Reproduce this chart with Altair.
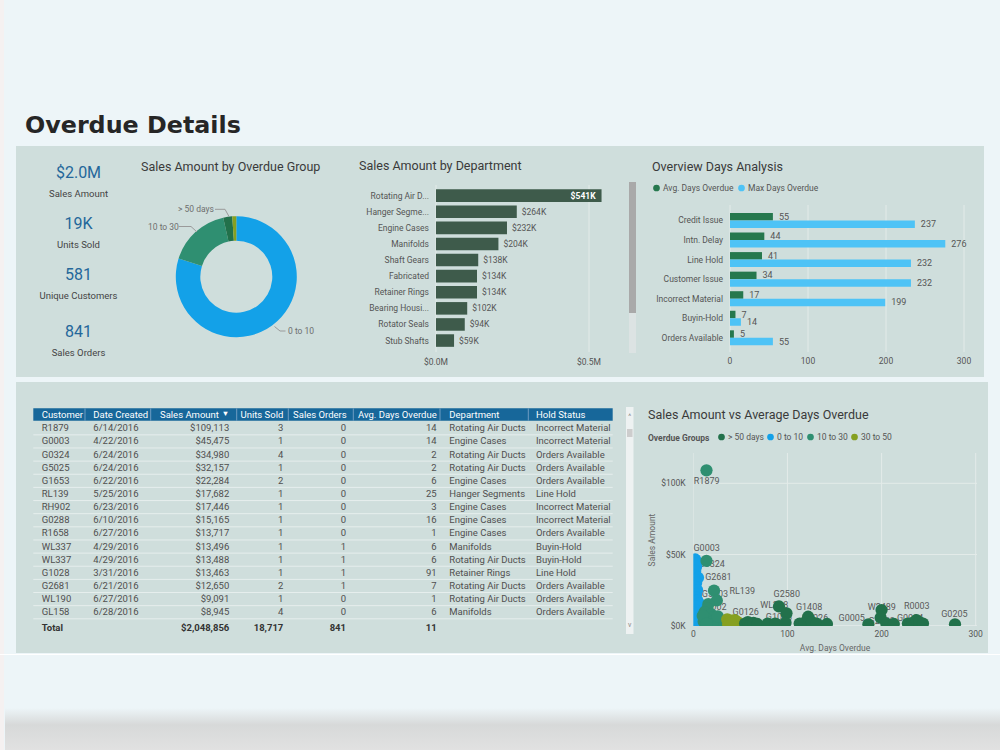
import altair as alt
import pandas as pd

# ---------------- values ----------------
kpi_values = ["$2.0M", "19K", "581", "841"]
kpi_names = ["Sales Amount", "Units Sold", "Unique Customers", "Sales Orders"]

overdue_groups = ["> 50 days", "0 to 10", "10 to 30", "30 to 50"]
overdue_colors = ["#22714b", "#13a1e8", "#2f8f71", "#86a021"]

# donut slices, clockwise from 12 o'clock
donut_groups = ["0 to 10", "10 to 30", "> 50 days", "30 to 50"]
donut_sales = [1636000, 342000, 49000, 22000]

dept_names = ["Rotating Air D...", "Hanger Segme...", "Engine Cases", "Manifolds",
              "Shaft Gears", "Fabricated", "Retainer Rings", "Bearing Housi...",
              "Rotator Seals", "Stub Shafts"]
dept_sales = [541000, 264000, 232000, 204000, 138000, 134000, 134000, 102000, 94000, 59000]
dept_ticks = [0, 500000]

hold_names = ["Credit Issue", "Intn. Delay", "Line Hold", "Customer Issue",
              "Incorrect Material", "Buyin-Hold", "Orders Available"]
hold_avg_days = [55, 44, 41, 34, 17, 7, 5]
hold_max_days = [237, 276, 232, 232, 199, 14, 55]
series_names = ["Avg. Days Overdue", "Max Days Overdue"]
days_ticks = [0, 100, 200, 300]

tbl_customer = ["R1879", "G0003", "G0324", "G5025", "G1653", "RL139", "RH902", "G0288",
                "R1658", "WL337", "WL337", "G1028", "G2681", "WL190", "GL158"]
tbl_date = ["6/14/2016", "4/22/2016", "6/24/2016", "6/24/2016", "6/22/2016", "5/25/2016",
            "6/23/2016", "6/10/2016", "6/27/2016", "4/29/2016", "4/29/2016", "3/31/2016",
            "6/21/2016", "6/27/2016", "6/28/2016"]
tbl_sales = [109113, 45475, 34980, 32157, 22284, 17682, 17446, 15165, 13717, 13496,
             13488, 13463, 12650, 9091, 8945]
tbl_units = [3, 1, 4, 1, 2, 1, 1, 1, 1, 1, 1, 1, 2, 1, 4]
tbl_orders = [0, 0, 0, 0, 0, 0, 0, 0, 0, 1, 1, 1, 1, 0, 0]
tbl_days = [14, 14, 2, 2, 6, 25, 3, 16, 1, 6, 6, 91, 7, 1, 6]
tbl_dept = ["Rotating Air Ducts", "Engine Cases", "Rotating Air Ducts", "Rotating Air Ducts",
            "Engine Cases", "Hanger Segments", "Engine Cases", "Engine Cases", "Engine Cases",
            "Manifolds", "Rotating Air Ducts", "Retainer Rings", "Rotating Air Ducts",
            "Rotating Air Ducts", "Manifolds"]
tbl_hold = ["Incorrect Material", "Incorrect Material", "Orders Available", "Orders Available",
            "Orders Available", "Line Hold", "Incorrect Material", "Incorrect Material",
            "Orders Available", "Buyin-Hold", "Buyin-Hold", "Line Hold", "Orders Available",
            "Orders Available", "Orders Available"]
tbl_total_sales = "$2,048,856"
tbl_total_units = "18,717"
tbl_total_orders = "841"
tbl_total_days = "11"

# scatter points per overdue group (days, sales in $K)
blue_days = [2, 3, 3, 2, 2, 5, 2, 3, 1, 4, 3, 2, 4, 3, 6, 1, 3, 2, 1, 4, 2, 5, 3, 2, 1, 4, 2]
blue_sales = [46.5, 44, 41.5, 38.5, 35.0, 33.7, 32.2, 30, 27.5, 25, 22.3, 20, 18, 17.4, 15.5,
              13.7, 13.5, 11, 9.1, 8.9, 6.5, 5, 3.5, 2.5, 1.5, 0.8, 0.5]
teal_days = [14, 14, 22, 25, 16, 15, 12, 19, 21, 13, 24, 11, 17, 28, 20, 26, 10, 14]
teal_sales = [109.1, 45.5, 24.6, 17.7, 15.2, 12, 9.5, 8, 6, 5, 4, 3, 2.5, 1.5, 1, 6.5, 7, 1.5]
olive_days = [36, 44, 38, 40, 42, 47, 37, 49, 39, 45, 41]
olive_sales = [4.5, 4, 2.5, 3.5, 2, 2.5, 1, 1, 1.5, 3, 1]
green_days = [55, 58, 61, 64, 68, 79, 87, 91, 99, 98, 113, 118, 122, 126, 131, 142, 186,
              200, 199, 205, 213, 228, 233, 237, 240, 244, 278]
green_sales = [1.5, 2.5, 1, 2, 1.2, 1.5, 1.5, 13.5, 8.7, 2, 1.5, 2, 6.3, 2.5, 1.5, 1.2, 1,
               11, 5.6, 1.5, 1.2, 1.5, 2, 4, 2.5, 1.5, 1]
sc_y_ticks = [0, 50, 100]

# customer labels, anchored in (days, $K)
sc_label_names = ["R1879", "G0003", "G0324", "G2681", "G5003", "RL139", "G0002", "G0126",
                  "G2580", "WL268", "G1408", "G1028", "G0026", "G0005", "W2489", "G2539",
                  "R0003", "G0084", "G0205"]
sc_label_days = [14.2, 14.2, 19.6, 26.6, 23, 52, 21.3, 55.7, 99.3, 86, 123, 91, 129.3,
                 168.3, 200.2, 200.2, 237.4, 230.3, 277.4]
sc_label_sales = [101.6, 54.8, 43.3, 34, 22, 24.4, 13.1, 9.6, 22.3, 14.5, 13.3, 5.9, 5.6,
                  5.6, 13.3, 3.3, 14, 5.6, 8]

# ---------------- styling helpers ----------------
FONT = "Roboto"
GRAY = "#555555"
PANEL = "#cfdedc"
GRID = "#e3ebe9"


def one_row():
    return pd.DataFrame({"k": [0]})


def box(x, y, x2, y2, fill, **kw):
    return alt.Chart(one_row()).mark_rect(fill=fill, **kw).encode(
        x=alt.value(x), x2=alt.value(x2), y=alt.value(y), y2=alt.value(y2))


def seg(x, y, x2, y2, color, width=1.0):
    return alt.Chart(one_row()).mark_rule(color=color, strokeWidth=width).encode(
        x=alt.value(x), x2=alt.value(x2), y=alt.value(y), y2=alt.value(y2))


def text(s, x, y, size=9.0, color=GRAY, align="left", weight="normal", font=FONT,
         baseline="middle", angle=0):
    return alt.Chart(pd.DataFrame({"t": [s]})).mark_text(
        align=align, baseline=baseline, fontSize=size, color=color,
        fontWeight=weight, font=font, angle=angle
    ).encode(x=alt.value(x), y=alt.value(y), text="t:N")


layers = []

# ---------------- page and panels ----------------
shadow = alt.Chart(one_row()).mark_rect(
    fill=alt.Gradient(gradient="linear", x1=0, x2=0, y1=0, y2=1,
                      stops=[alt.GradientStop(color="#edf5f8", offset=0),
                             alt.GradientStop(color="#d7d9d9", offset=0.4),
                             alt.GradientStop(color="#e1e1e1", offset=1)])
).encode(x=alt.value(5), x2=alt.value(1000), y=alt.value(708), y2=alt.value(750))

layers += [
    box(0, 0, 4, 750, "#f5f1f1"),
    box(16, 146, 984, 377, PANEL),
    box(16, 382, 988, 653, PANEL),
    seg(0, 654.5, 1000, 654.5, "#ffffff"),
    shadow,
    text("Overdue Details", 25, 133, size=23.8, color="#262626", weight="bold",
         font="DejaVu Sans", baseline="alphabetic"),
]

# ---------------- KPI cards ----------------
for v, n, y in zip(kpi_values, kpi_names, [173.3, 224.3, 275, 332.3]):
    layers.append(text(v, 78.5, y, size=16, color="#24679a", align="center"))
    layers.append(text(n, 78.5, y + 21, size=9.5, color="#444444", align="center"))

# ---------------- panel titles ----------------
TITLE = dict(size=12.5, color="#3a3a3a")
layers += [
    text("Sales Amount by Overdue Group", 141, 166.5, **TITLE),
    text("Sales Amount by Department", 359, 165.5, **TITLE),
    text("Overview Days Analysis", 652, 166.7, **TITLE),
    text("Sales Amount vs Average Days Overdue", 648, 415, **TITLE),
]

# ---------------- donut ----------------
group_scale = alt.Scale(domain=overdue_groups, range=overdue_colors)
donut_df = pd.DataFrame({"group": donut_groups, "sales": donut_sales,
                         "ord": list(range(len(donut_groups)))})
donut = alt.Chart(donut_df).mark_arc(innerRadius=36, outerRadius=60.5).encode(
    theta=alt.Theta("sales:Q", stack=True),
    color=alt.Color("group:N", scale=group_scale, legend=None),
    order=alt.Order("ord:Q"),
    x=alt.value(236.3), y=alt.value(276.7),
)
LEAD = "#9a9a9a"
DL = dict(size=8.5, color="#6e6e6e")
layers += [
    donut,
    text("> 50 days", 178, 208.8, **DL),
    text("10 to 30", 148, 227, **DL),
    text("0 to 10", 288, 331, **DL),
    seg(215, 209.3, 225, 209.3, LEAD), seg(225, 209.3, 229, 216.5, LEAD),
    seg(178.5, 226.5, 191, 226.5, LEAD), seg(191, 226.5, 197, 232, LEAD),
    seg(274.5, 326.5, 280, 331, LEAD), seg(280, 331, 285.5, 331, LEAD),
]

# ---------------- sales by department ----------------
dept_df = pd.DataFrame({"dept": dept_names, "sales": dept_sales,
                        "label": ["$%dK" % round(v / 1000) for v in dept_sales]})
dept_tick_df = pd.DataFrame({"v": dept_ticks,
                             "label": ["$%.1fM" % (v / 1e6) for v in dept_ticks]})
dept_x = alt.Scale(domain=[0, 500000], range=[436, 589])
dept_y = alt.Scale(type="band", domain=dept_names, range=[187.6, 348.6],
                   paddingInner=0.22, paddingOuter=0.11)
DX = alt.X("sales:Q", scale=dept_x, axis=None)
DY = alt.Y("dept:N", scale=dept_y, axis=None)
dept_layer = alt.layer(
    alt.Chart(dept_tick_df).mark_rule(color=GRID).encode(
        x=alt.X("v:Q", scale=dept_x, axis=None), y=alt.value(185), y2=alt.value(352)),
    alt.Chart(dept_df).mark_bar(color="#3e5b4b").encode(x=DX, y=DY),
    alt.Chart(dept_df).transform_filter("datum.sales < 500000").mark_text(
        align="left", dx=5, fontSize=8.5, color=GRAY, font=FONT).encode(x=DX, y=DY, text="label:N"),
    alt.Chart(dept_df).transform_filter("datum.sales >= 500000").mark_text(
        align="right", dx=-6, fontSize=8.5, color="#ffffff", fontWeight="bold", font=FONT
    ).encode(x=DX, y=DY, text="label:N"),
    alt.Chart(dept_df).mark_text(align="right", fontSize=8.5, color=GRAY, font=FONT).encode(
        x=alt.value(429), y=DY, text="dept:N"),
    alt.Chart(dept_tick_df).mark_text(align="center", fontSize=8.5, color=GRAY, font=FONT).encode(
        x=alt.X("v:Q", scale=dept_x, axis=None), y=alt.value(362), text="label:N"),
)
layers.append(dept_layer)

# ---------------- overview days analysis ----------------
hold_df = pd.DataFrame({
    "hold": hold_names * 2,
    "series": [series_names[0]] * len(hold_names) + [series_names[1]] * len(hold_names),
    "days": hold_avg_days + hold_max_days,
})
days_tick_df = pd.DataFrame({"v": days_ticks})
ov_x = alt.Scale(domain=[0, 300], range=[730, 964])
ov_y = alt.Scale(type="band", domain=hold_names, range=[210.7, 347.6],
                 paddingInner=0.233, paddingOuter=0.1165)
ov_off = alt.Scale(type="band", domain=series_names, paddingInner=0, paddingOuter=0)
ov_color = alt.Scale(domain=series_names, range=["#26784e", "#4ec3f6"])
OX = alt.X("days:Q", scale=ov_x, axis=None)
OY = alt.Y("hold:N", scale=ov_y, axis=None)
OO = alt.YOffset("series:N", scale=ov_off)
ov_layer = alt.layer(
    alt.Chart(days_tick_df).mark_rule(color=GRID).encode(
        x=alt.X("v:Q", scale=ov_x, axis=None), y=alt.value(205), y2=alt.value(352)),
    alt.Chart(hold_df).mark_bar().encode(
        x=OX, y=OY, yOffset=OO,
        color=alt.Color("series:N", scale=ov_color, legend=alt.Legend(
            orient="none", legendX=652, legendY=183.5, direction="horizontal", title=None,
            symbolType="circle", symbolSize=45, labelFont=FONT, labelFontSize=8.5,
            labelColor=GRAY, labelOffset=2, columnPadding=3, padding=0))),
    alt.Chart(hold_df).mark_text(align="left", dx=6, fontSize=9, color=GRAY, font=FONT).encode(
        x=OX, y=OY, yOffset=OO, text="days:Q"),
    alt.Chart(hold_df).transform_filter(alt.datum.series == series_names[0]).mark_text(
        align="right", fontSize=8.5, color=GRAY, font=FONT).encode(
        x=alt.value(723), y=OY, text="hold:N"),
    alt.Chart(days_tick_df).mark_text(align="center", fontSize=8.5, color=GRAY, font=FONT).encode(
        x=alt.X("v:Q", scale=ov_x, axis=None), y=alt.value(361), text="v:Q"),
)
layers += [box(629, 182, 636, 313, "#a9a9a9"), box(629, 313, 636, 353, "#dce3e3"), ov_layer]

# ---------------- detail table ----------------
n_rows = len(tbl_customer)
table_df = pd.DataFrame({
    "row": list(range(n_rows)),
    "cust": tbl_customer,
    "date": tbl_date,
    "sales": ["$" + format(v, ",") for v in tbl_sales],
    "units": [str(v) for v in tbl_units],
    "orders": [str(v) for v in tbl_orders],
    "days": [str(v) for v in tbl_days],
    "dept": tbl_dept,
    "hold": tbl_hold,
})
row_scale = alt.Scale(type="band", domain=list(range(n_rows)), range=[421.7, 618.8],
                      paddingInner=0, paddingOuter=0)
RY = alt.Y("row:O", scale=row_scale, axis=None)
table_cols = [("cust", 41.7, "left"), ("date", 93.3, "left"), ("sales", 229.3, "right"),
              ("units", 283.3, "right"), ("orders", 346, "right"), ("days", 436.7, "right"),
              ("dept", 449.3, "left"), ("hold", 536, "left")]
table_parts = [
    alt.Chart(table_df).mark_rule(color="#e6eeed", strokeWidth=1).encode(
        y=alt.Y("row:O", scale=row_scale, axis=None, bandPosition=1),
        x=alt.value(33.3), x2=alt.value(612.7)),
]
for col, xpos, al in table_cols:
    table_parts.append(
        alt.Chart(table_df).mark_text(align=al, fontSize=9.5, color="#4f4f4f", font=FONT).encode(
            x=alt.value(xpos), y=RY, text=f"{col}:N"))
layers.append(alt.layer(*table_parts))

HDR = dict(size=9.5, color="#ffffff")
layers += [
    box(33.3, 408.3, 612.7, 420.7, "#17679a"),
    text("Customer", 41.7, 414.5, **HDR),
    text("Date Created", 93.3, 414.5, **HDR),
    text("Sales Amount", 160, 414.5, **HDR),
    text("▼", 225.5, 414, size=7.5, color="#ffffff", align="center"),
    text("Units Sold", 283.3, 414.5, align="right", **HDR),
    text("Sales Orders", 346.7, 414.5, align="right", **HDR),
    text("Avg. Days Overdue", 436.7, 414.5, align="right", **HDR),
    text("Department", 449.3, 414.5, **HDR),
    text("Hold Status", 536, 414.5, **HDR),
]
for sx in [85, 150.7, 236.7, 288.3, 353.3, 440, 528.3]:
    layers.append(seg(sx, 408.3, sx, 420.7, "#6f9dc2"))

TOT = dict(size=9.5, color="#333333", weight="bold")
layers += [
    text("Total", 41.7, 628.3, **TOT),
    text(tbl_total_sales, 229.3, 628.3, align="right", **TOT),
    text(tbl_total_units, 283.3, 628.3, align="right", **TOT),
    text(tbl_total_orders, 346, 628.3, align="right", **TOT),
    text(tbl_total_days, 436.7, 628.3, align="right", **TOT),
    box(626, 407, 633.5, 634, "#eef2f2"),
    box(627, 429, 632.5, 437, "#cdcdcd"),
    text("^", 629.8, 417, size=7, color="#888888", align="center"),
    text("v", 629.8, 625, size=7, color="#888888", align="center"),
]

# ---------------- scatter ----------------
sc_df = pd.DataFrame({
    "group": ["0 to 10"] * len(blue_days) + ["10 to 30"] * len(teal_days)
             + ["30 to 50"] * len(olive_days) + ["> 50 days"] * len(green_days),
    "days": blue_days + teal_days + olive_days + green_days,
    "sales": blue_sales + teal_sales + olive_sales + green_sales,
})
sc_df["ord"] = list(range(len(sc_df)))
sc_lab_df = pd.DataFrame({"name": sc_label_names, "days": sc_label_days, "sales": sc_label_sales})
sc_xt_df = pd.DataFrame({"v": days_ticks})
sc_yt_df = pd.DataFrame({"v": sc_y_ticks, "label": ["$%dK" % v for v in sc_y_ticks]})
sc_x = alt.Scale(domain=[0, 300], range=[693.3, 975.7])
sc_y = alt.Scale(domain=[0, 100], range=[625.7, 483.3])
SX = alt.X("days:Q", scale=sc_x, axis=None)
SY = alt.Y("sales:Q", scale=sc_y, axis=None)

sc_layer = alt.layer(
    alt.Chart(sc_xt_df).mark_rule(color=GRID).encode(
        x=alt.X("v:Q", scale=sc_x, axis=None), y=alt.value(453), y2=alt.value(626)),
    alt.Chart(sc_yt_df).mark_rule(color=GRID).encode(
        y=alt.Y("v:Q", scale=sc_y, axis=None), x=alt.value(693.3), x2=alt.value(977)),
    alt.Chart(sc_lab_df).mark_text(align="center", fontSize=9, color="#5a5a5a", font=FONT).encode(
        x=SX, y=SY, text="name:N"),
    alt.Chart(sc_df).mark_circle(size=150, opacity=1).encode(
        x=SX, y=SY, order=alt.Order("ord:Q"),
        color=alt.Color("group:N", scale=group_scale, legend=alt.Legend(
            orient="none", legendX=648, legendY=432.5, direction="horizontal",
            title="Overdue Groups", titleOrient="left", titleFont=FONT, titleFontSize=8.5,
            titleFontWeight="bold", titleColor=GRAY, titlePadding=7,
            symbolType="circle", symbolSize=45, labelFont=FONT, labelFontSize=8.5,
            labelColor=GRAY, labelOffset=2, columnPadding=2, padding=0))),
    # plot-area edge: points are cut at the axes
    box(686, 450, 693.3, 633, PANEL),
    box(686, 626, 986, 633, PANEL),
    alt.Chart(sc_xt_df).mark_text(align="center", fontSize=8.5, color=GRAY, font=FONT).encode(
        x=alt.X("v:Q", scale=sc_x, axis=None), y=alt.value(634.3), text="v:Q"),
    alt.Chart(sc_yt_df).mark_text(align="right", fontSize=8.5, color=GRAY, font=FONT).encode(
        y=alt.Y("v:Q", scale=sc_y, axis=None), x=alt.value(685.7), text="label:N"),
)
layers += [
    sc_layer,
    text("Avg. Days Overdue", 835, 647.7, size=8.5, color="#666666", align="center"),
    text("Sales Amount", 651.7, 540, size=8.5, color="#666666", align="center", angle=270),
]

chart = alt.layer(*layers).resolve_scale(
    x="independent", y="independent", color="independent",
    theta="independent", yOffset="independent",
).properties(
    width=1000, height=750, padding=0,
    autosize=alt.AutoSizeParams(type="none"),
    background="#edf5f8",
).configure_view(strokeWidth=0)

chart.save("out.html", embed_options={"renderer": "svg", "actions": False})
